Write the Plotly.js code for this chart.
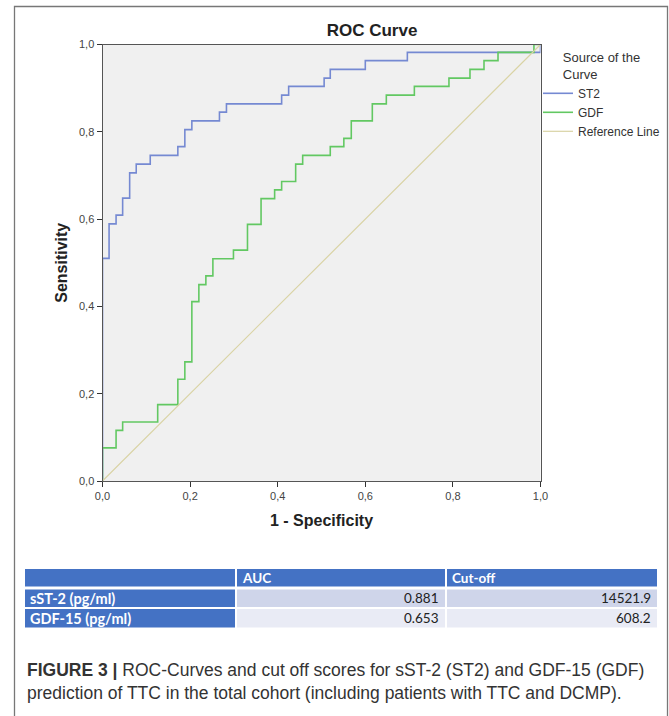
<!DOCTYPE html>
<html>
<head>
<meta charset="utf-8">
<script src="https://cdn.plot.ly/plotly-3.0.1.min.js"></script>
<style>
html,body{margin:0;padding:0;background:#fff;}
#chart{width:669px;height:716px;}
</style>
</head>
<body>
<div id="chart"></div>
<script>
// ---- data ----
const st2X = [0, 0, 0.015, 0.031, 0.046, 0.062, 0.077, 0.109, 0.172, 0.188, 0.204, 0.267, 0.283, 0.409, 0.425, 0.506, 0.52, 0.6, 0.696, 1.0];
const st2Y = [0, 0.51, 0.589, 0.609, 0.648, 0.706, 0.726, 0.746, 0.766, 0.805, 0.825, 0.845, 0.864, 0.884, 0.904, 0.923, 0.943, 0.963, 0.982, 1.0];

const gdfX = [0, 0, 0.031, 0.046, 0.126, 0.172, 0.188, 0.204, 0.22, 0.236, 0.252, 0.299, 0.331, 0.362, 0.393, 0.409, 0.441, 0.457, 0.52, 0.551, 0.568, 0.616, 0.648, 0.712, 0.791, 0.839, 0.871, 0.903, 0.985, 1.0];
const gdfY = [0, 0.076, 0.116, 0.135, 0.175, 0.233, 0.273, 0.411, 0.45, 0.47, 0.509, 0.529, 0.588, 0.647, 0.667, 0.686, 0.726, 0.746, 0.766, 0.785, 0.825, 0.864, 0.884, 0.904, 0.923, 0.943, 0.963, 0.982, 1.0, 1.0];

const refX = [0, 1];
const refY = [0, 1];

const seriesNames = ["ST2", "GDF", "Reference Line"];
const tickVals = [0, 0.2, 0.4, 0.6, 0.8, 1.0];
const tickText = ["0,0", "0,2", "0,4", "0,6", "0,8", "1,0"];

const tableHeader = ["", "AUC", "Cut-off"];
const rowNames = ["sST-2 (pg/ml)", "GDF-15 (pg/ml)"];
const aucValues = ["0.881", "0.653"];
const cutoffValues = ["14521.9", "608.2"];

// ---- layout helpers (pixel -> paper) ----
const W = 669, H = 716;
const px = v => v / W;
const py = v => 1 - v / H;

const axisFont = {family: "Liberation Sans, Arial, sans-serif", size: 11, color: "#444"};
const tableFontFamily = "Lato, Open Sans, sans-serif";

// table geometry (pixels)
const colEdges = [[25, 235], [237, 445], [447, 657]];
const rowEdges = [[569, 586.5], [589.5, 607], [609, 627.5]];
const headBlue = "#4472c4";
const rowFills = ["#cfd5ea", "#e9ebf5"];

const tableShapes = [];
const tableAnns = [];
const tableRows = [tableHeader].concat(rowNames.map((n, i) => [n, aucValues[i], cutoffValues[i]]));
tableRows.forEach((row, r) => {
  row.forEach((txt, c) => {
    const fill = (r === 0 || c === 0) ? headBlue : rowFills[r - 1];
    tableShapes.push({type: "rect", xref: "paper", yref: "paper",
      x0: px(colEdges[c][0]), x1: px(colEdges[c][1]),
      y0: py(rowEdges[r][1]), y1: py(rowEdges[r][0]),
      line: {width: 0}, fillcolor: fill, layer: "below"});
    if (txt) {
      const white = (r === 0 || c === 0);
      const right = !white;
      const size = (c === 0) ? 14.5 : 13.5;
      tableAnns.push({xref: "paper", yref: "paper", showarrow: false,
        x: right ? px(colEdges[c][1] - 4) : px(colEdges[c][0] + 3),
        xanchor: right ? "right" : "left",
        y: py((rowEdges[r][0] + rowEdges[r][1]) / 2), yanchor: "middle",
        text: white ? "<b>" + txt + "</b>" : txt,
        font: {family: tableFontFamily, size: size, color: white ? "#ffffff" : "#222222"}});
    }
  });
});

const traces = [
  {x: st2X, y: st2Y, name: seriesNames[0], type: "scatter", mode: "lines",
   line: {color: "#7589d2", width: 1.6, shape: "hv"}},
  {x: gdfX, y: gdfY, name: seriesNames[1], type: "scatter", mode: "lines",
   line: {color: "#62c862", width: 1.6, shape: "hv"}},
  {x: refX, y: refY, name: seriesNames[2], type: "scatter", mode: "lines",
   line: {color: "#d9d3a4", width: 1.2}}
];

const layout = {
  width: W, height: H,
  margin: {l: 0, r: 0, t: 0, b: 0},
  paper_bgcolor: "#ffffff",
  plot_bgcolor: "#f0f0f0",
  font: {family: "Liberation Sans, Arial, sans-serif", color: "#333"},
  title: {text: "<b>ROC Curve</b>", x: px(372), xanchor: "center", y: py(30), yanchor: "middle",
          font: {family: "Liberation Sans, Arial, sans-serif", size: 17, color: "#222"}},
  xaxis: {
    domain: [px(102.5), px(540.5)], range: [0, 1],
    tickvals: tickVals, ticktext: tickText,
    ticks: "outside", ticklen: 5, tickwidth: 1, tickcolor: "#333",
    showline: true, mirror: true, linecolor: "#555", linewidth: 1,
    showgrid: false, zeroline: false, tickfont: axisFont,
    title: {text: "<b>1 - Specificity</b>", standoff: 13,
            font: {family: "Liberation Sans, Arial, sans-serif", size: 16, color: "#222"}}
  },
  yaxis: {
    domain: [1 - 481 / H, 1 - 44.5 / H], range: [0, 1],
    tickvals: tickVals, ticktext: tickText,
    ticks: "outside", ticklen: 5, tickwidth: 1, tickcolor: "#333",
    showline: true, mirror: true, linecolor: "#555", linewidth: 1,
    showgrid: false, zeroline: false, tickfont: axisFont,
    title: {text: "<b>Sensitivity</b>", standoff: 7,
            font: {family: "Liberation Sans, Arial, sans-serif", size: 16, color: "#222"}}
  },
  showlegend: true,
  legend: {
    x: px(538), xanchor: "left", y: py(45), yanchor: "top",
    bgcolor: "rgba(0,0,0,0)",
    font: {family: "Liberation Sans, Arial, sans-serif", size: 12, color: "#333"},
    title: {text: "Source of the<br>Curve", side: "top center",
            font: {family: "Liberation Sans, Arial, sans-serif", size: 13, color: "#333"}},
    tracegroupgap: 0
  },
  shapes: [
    {type: "rect", xref: "paper", yref: "paper",
     x0: px(14.5), x1: px(667.5), y0: -0.05, y1: py(6.5),
     line: {color: "#777", width: 1.3}, fillcolor: "rgba(0,0,0,0)", layer: "below"}
  ].concat(tableShapes),
  annotations: [
    {xref: "paper", yref: "paper", x: px(25), y: py(658), xanchor: "left", yanchor: "top",
     align: "left", showarrow: false,
     text: "<b>FIGURE 3 |</b> ROC-Curves and cut off scores for sST-2 (ST2) and GDF-15 (GDF)<br>prediction of TTC in the total cohort (including patients with TTC and DCMP).",
     font: {family: "Liberation Sans, Arial, sans-serif", size: 17.5, color: "#333"}}
  ].concat(tableAnns)
};

Plotly.newPlot("chart", traces, layout, {displayModeBar: false, staticPlot: true});
</script>
</body>
</html>
